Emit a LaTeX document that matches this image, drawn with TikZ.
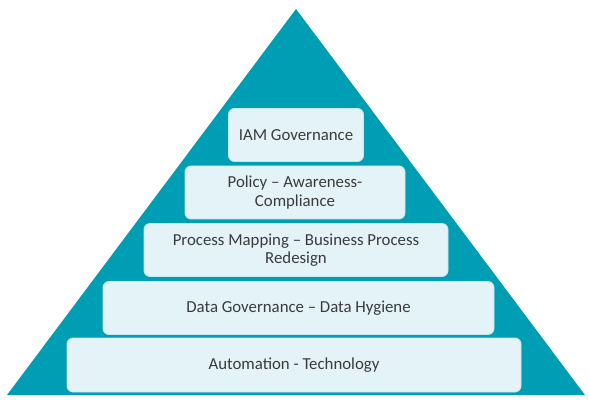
\documentclass[tikz,border=0pt]{standalone}
\usepackage{fontspec}
\setmainfont{Carlito}
\definecolor{teal}{HTML}{009EB4}
\definecolor{boxfill}{HTML}{E4F3F8}
\definecolor{boxline}{HTML}{C8E7EF}
\definecolor{txt}{HTML}{3A3A3A}
\begin{document}
\begin{tikzpicture}[x=1pt,y=-1pt,
  tier/.style={draw=boxline, line width=0.8pt, fill=boxfill, rounded corners=6pt, text=txt, font=\fontsize{16.8}{18.5}\selectfont, align=center}]
\useasboundingbox (0,0) rectangle (589,403);
\fill[teal] (296,9) coordinate (apex) -- (585,395) coordinate (br) -- (7,395) coordinate (bl) -- cycle;
\node[tier, minimum width=135pt, minimum height=53pt] (t1) at (296,135) {IAM Governance};
\node[tier, minimum width=220pt, minimum height=53pt] (t2) at (295,192.5) {Policy -- Awareness-\\Compliance};
\node[tier, minimum width=304pt, minimum height=53pt] (t3) at (296,250) {Process Mapping -- Business Process\\Redesign};
\node[tier, minimum width=391pt, minimum height=53pt] (t4) at (298.5,308) {Data Governance -- Data Hygiene};
\node[tier, minimum width=454pt, minimum height=54pt] (t5) at (294,365) {Automation - Technology};
\end{tikzpicture}
\end{document}
